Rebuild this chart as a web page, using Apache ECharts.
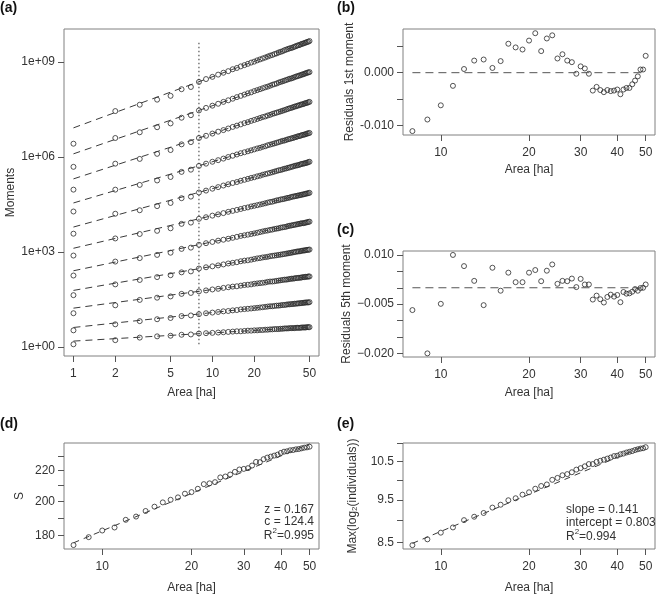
<!DOCTYPE html>
<html lang="en">
<head>
<meta charset="UTF-8">
<title>Moments and residuals vs area</title>
<script src="https://cdn.jsdelivr.net/npm/echarts@6/dist/echarts.min.js"></script>
</head>
<body style="margin:0;background:#fff">
<div id="main" style="width:666px;height:596px"></div>
<script type="text/javascript">
// sampling area (ha) for panel (a); panels (b)-(e) use areas 8..50
var areas = [1,2,3,4,5,6,7,8,9,10,11,12,13,14,15,16,17,18,19,20,21,22,23,24,25,26,27,28,29,30,
             31,32,33,34,35,36,37,38,39,40,41,42,43,44,45,46,47,48,49,50];
var cutoffArea = 8;
var cutoffSpanExp = [0.09, 9.62];

// log10 of moments, one row per moment order (bottom to top)
var m1  = [0.09,0.22,0.30,0.34,0.36,0.39,0.40,0.43,0.44,0.45,0.46,0.47,0.48,0.49,0.50,0.50,0.51,0.52,0.52,0.53,0.53,0.54,0.54,0.55,0.55,0.56,0.56,0.57,0.57,0.57,0.58,0.58,0.59,0.59,0.59,0.60,0.60,0.60,0.60,0.61,0.61,0.61,0.61,0.62,0.62,0.62,0.62,0.63,0.63,0.63];
var m2  = [0.53,0.72,0.82,0.88,0.92,0.98,1.00,1.04,1.07,1.09,1.11,1.13,1.14,1.16,1.17,1.19,1.20,1.21,1.22,1.23,1.24,1.25,1.26,1.27,1.28,1.29,1.29,1.30,1.31,1.31,1.32,1.33,1.33,1.34,1.35,1.35,1.36,1.36,1.37,1.37,1.38,1.38,1.39,1.39,1.40,1.40,1.41,1.41,1.41,1.42];
var m3  = [1.07,1.32,1.49,1.56,1.60,1.68,1.71,1.76,1.79,1.82,1.84,1.87,1.89,1.91,1.92,1.94,1.96,1.97,1.98,2.00,2.01,2.02,2.03,2.04,2.06,2.07,2.07,2.08,2.09,2.10,2.11,2.12,2.13,2.13,2.14,2.15,2.16,2.16,2.17,2.18,2.18,2.19,2.19,2.20,2.21,2.21,2.22,2.22,2.23,2.23];
var m4  = [1.64,1.98,2.12,2.21,2.27,2.36,2.39,2.48,2.52,2.55,2.58,2.61,2.64,2.66,2.68,2.71,2.73,2.74,2.76,2.78,2.80,2.81,2.83,2.84,2.85,2.87,2.88,2.89,2.90,2.91,2.92,2.93,2.94,2.95,2.96,2.97,2.98,2.99,3.00,3.01,3.02,3.02,3.03,3.04,3.05,3.05,3.06,3.07,3.07,3.08];
var m5  = [2.26,2.70,2.81,2.91,2.98,3.10,3.14,3.23,3.28,3.32,3.36,3.39,3.42,3.45,3.48,3.51,3.53,3.55,3.57,3.59,3.61,3.63,3.65,3.67,3.68,3.70,3.71,3.73,3.74,3.75,3.77,3.78,3.79,3.80,3.82,3.83,3.84,3.85,3.86,3.87,3.88,3.89,3.90,3.91,3.91,3.92,3.93,3.94,3.95,3.96];
var m6  = [2.89,3.43,3.57,3.67,3.75,3.89,3.93,4.05,4.10,4.15,4.19,4.23,4.27,4.30,4.33,4.36,4.39,4.41,4.44,4.46,4.48,4.50,4.52,4.54,4.56,4.58,4.59,4.61,4.63,4.64,4.66,4.67,4.68,4.70,4.71,4.72,4.74,4.75,4.76,4.77,4.78,4.79,4.80,4.81,4.82,4.83,4.84,4.85,4.86,4.87];
var m7  = [3.58,4.21,4.32,4.45,4.55,4.70,4.75,4.88,4.94,5.00,5.05,5.10,5.14,5.18,5.21,5.25,5.28,5.31,5.34,5.36,5.39,5.41,5.44,5.46,5.48,5.50,5.52,5.54,5.56,5.58,5.59,5.61,5.63,5.64,5.66,5.67,5.69,5.70,5.72,5.73,5.74,5.75,5.77,5.78,5.79,5.80,5.81,5.82,5.84,5.85];
var m8  = [4.28,4.97,5.12,5.26,5.37,5.53,5.60,5.72,5.79,5.85,5.90,5.95,6.00,6.04,6.08,6.12,6.15,6.18,6.21,6.24,6.27,6.29,6.32,6.34,6.37,6.39,6.41,6.43,6.45,6.47,6.49,6.51,6.52,6.54,6.56,6.57,6.59,6.60,6.62,6.63,6.65,6.66,6.67,6.69,6.70,6.71,6.72,6.74,6.75,6.76];
var m9  = [4.97,5.79,5.94,6.10,6.22,6.40,6.47,6.60,6.67,6.74,6.80,6.85,6.90,6.95,6.99,7.03,7.07,7.10,7.14,7.17,7.20,7.23,7.26,7.28,7.31,7.33,7.36,7.38,7.40,7.42,7.44,7.46,7.48,7.50,7.52,7.54,7.55,7.57,7.59,7.60,7.62,7.63,7.65,7.66,7.67,7.69,7.70,7.71,7.73,7.74];
var m10 = [5.69,6.60,6.78,6.94,7.06,7.24,7.32,7.47,7.55,7.62,7.68,7.74,7.79,7.84,7.89,7.93,7.97,8.01,8.04,8.08,8.11,8.14,8.17,8.20,8.22,8.25,8.28,8.30,8.32,8.35,8.37,8.39,8.41,8.43,8.45,8.47,8.48,8.50,8.52,8.54,8.55,8.57,8.58,8.60,8.61,8.63,8.64,8.66,8.67,8.68];
var m11 = [6.42,7.45,7.65,7.81,7.93,8.14,8.21,8.37,8.46,8.53,8.60,8.66,8.71,8.77,8.81,8.86,8.90,8.94,8.98,9.01,9.05,9.08,9.11,9.14,9.17,9.20,9.22,9.25,9.27,9.30,9.32,9.34,9.37,9.39,9.41,9.43,9.44,9.46,9.48,9.50,9.52,9.53,9.55,9.57,9.58,9.60,9.61,9.63,9.64,9.66];
var momentRows = [m1, m2, m3, m4, m5, m6, m7, m8, m9, m10, m11];
// fitted power laws, log10 value at 1 ha and at 50 ha
var fitExpAt1  = [0.19,0.62,1.23,1.79,2.41,3.12,3.79,4.55,5.31,6.10,6.92];
var fitExpAt50 = [0.63,1.42,2.23,3.08,3.96,4.87,5.85,6.76,7.74,8.68,9.66];

var resid1 = [-0.0111,-0.0089,-0.0062,-0.0025,0.0007,0.0023,0.0025,0.0009,0.0022,0.0055,0.0048,0.0044,0.0061,0.0075,0.0041,0.0065,0.0071,0.0027,0.0035,0.0023,0.0020,-0.0002,0.0012,0.0008,-0.0002,-0.0034,-0.0027,-0.0033,-0.0037,-0.0033,-0.0035,-0.0034,-0.0032,-0.0041,-0.0032,-0.0029,-0.0029,-0.0022,-0.0015,-0.0007,0.0006,0.0006,0.0032];
var resid5 = [-0.0068,-0.0200,-0.0049,0.0100,0.0066,0.0021,-0.0053,0.0061,-0.0009,0.0046,0.0017,0.0017,0.0046,0.0054,0.0020,0.0052,0.0071,0.0012,0.0021,0.0020,0.0028,0.0002,0.0027,0.0010,0.0010,-0.0036,-0.0024,-0.0035,-0.0045,-0.0028,-0.0021,-0.0027,-0.0022,-0.0044,-0.0013,-0.0018,-0.0017,-0.0012,-0.0004,-0.0009,-0.0001,0.0000,0.0010];
var richness = [174.8,179.1,182.8,184.5,188.9,190.8,194.1,196.7,199.3,200.9,202.4,204.7,205.7,207.8,210.8,211.3,212.1,215.2,215.8,217.1,218.9,220.5,220.9,221.4,223.2,225.7,225.5,227.6,228.7,229.4,230.1,230.8,232.0,232.9,233.2,233.9,234.1,234.6,234.8,235.3,235.8,236.0,236.5];
var maxLog2 = [8.44,8.57,8.72,8.84,9.01,9.09,9.18,9.31,9.38,9.49,9.54,9.63,9.69,9.78,9.85,9.89,10.01,10.06,10.13,10.16,10.21,10.28,10.32,10.37,10.43,10.43,10.49,10.52,10.55,10.58,10.61,10.65,10.66,10.70,10.72,10.75,10.77,10.79,10.82,10.84,10.86,10.87,10.90];
// fitted lines at 8 ha and 50 ha
var fitRichness = [176.0, 238.5];
var fitMaxLog2 = [8.48, 10.95];

var xTicksA = [1, 2, 5, 10, 20, 50];
var xTicksB = [10, 20, 30, 40, 50];
var yTicksA = [1, 1e3, 1e6, 1e9];
var yTicksB = [-0.01, -0.005, 0, 0.005];
var yLabelsB = [-0.01, 0];
var yTicksC = [0.01, 0.005, 0, -0.005, -0.01, -0.015, -0.02];
var yLabelsC = [0.01, -0.005, -0.02];
var yTicksD = [180, 190, 200, 210, 220, 230];
var yLabelsD = [180, 200, 220];
var yTicksE = [8.5, 9, 9.5, 10, 10.5, 11];
var yLabelsE = [8.5, 9.5, 10.5];

var FONT = 'Liberation Sans, Arial, sans-serif';
var ink = '#333';
var areasSub = areas.slice(7);

var chart = echarts.init(document.getElementById('main'));

function pair(xs, ys) {
    return xs.map(function (x, i) { return [x, ys[i]]; });
}
function p10(v) { return Math.pow(10, v); }

function xAxisFor(grid, min, max, ticks, gap) {
    return {
        type: 'log', gridIndex: grid, min: min, max: max,
        axisLine: {show: false, onZero: false}, splitLine: {show: false},
        axisTick: {show: true, length: 6, customValues: ticks, lineStyle: {color: '#555'}},
        axisLabel: {customValues: ticks, margin: 12, fontFamily: FONT, fontSize: 12, color: ink,
            formatter: function (v) { return String(Math.round(v)); }},
        name: 'Area [ha]', nameLocation: 'middle', nameGap: gap,
        nameTextStyle: {fontFamily: FONT, fontSize: 12, color: ink}
    };
}
function yAxisFor(grid, type, min, max, ticks, labels, fmt, name, gap, rich) {
    return {
        type: type, gridIndex: grid, min: min, max: max,
        axisLine: {show: false, onZero: false}, splitLine: {show: false},
        axisTick: {show: true, length: 6, customValues: ticks, lineStyle: {color: '#555'}},
        axisLabel: {customValues: labels, margin: 9, fontFamily: FONT, fontSize: 12, color: ink, formatter: fmt},
        name: name, nameLocation: 'middle', nameGap: gap, nameRotate: 90,
        nameTextStyle: {fontFamily: FONT, fontSize: 12, color: ink, rich: rich}
    };
}

var gridStyle = {show: true, borderColor: '#808080', borderWidth: 1, containLabel: false};
var grids = [
    Object.assign({left: 64, top: 29, width: 255, height: 327}, gridStyle),
    Object.assign({left: 403, top: 29, width: 252, height: 106}, gridStyle),
    Object.assign({left: 403, top: 251, width: 252, height: 106}, gridStyle),
    Object.assign({left: 64, top: 443, width: 255, height: 106}, gridStyle),
    Object.assign({left: 403, top: 443, width: 252, height: 106}, gridStyle)
];

// hollow circles, as R's pch = 1
var dot = {symbol: 'circle', symbolSize: 5,
    itemStyle: {color: 'rgba(255,255,255,0)', borderColor: '#2a2a2a', borderWidth: 1}};

var series = [];
momentRows.forEach(function (row, k) {
    series.push({
        type: 'line', xAxisIndex: 0, yAxisIndex: 0, symbol: 'none', silent: true,
        lineStyle: {color: '#3a3a3a', width: 1, type: [7, 5]},
        data: [[1, p10(fitExpAt1[k])], [50, p10(fitExpAt50[k])]]
    });
    series.push(Object.assign({
        type: 'scatter', xAxisIndex: 0, yAxisIndex: 0,
        data: pair(areas, row.map(p10))
    }, dot));
});
series.push({
    type: 'line', xAxisIndex: 0, yAxisIndex: 0, symbol: 'none', silent: true,
    lineStyle: {color: '#333', width: 1, type: [1.5, 2.5]},
    data: [[cutoffArea, p10(cutoffSpanExp[0])], [cutoffArea, p10(cutoffSpanExp[1])]]
});
series.push({
    type: 'line', xAxisIndex: 1, yAxisIndex: 1, symbol: 'none', silent: true,
    lineStyle: {color: '#555', width: 1, type: [8, 5]},
    data: [[8, 0], [50, 0]]
});
series.push(Object.assign({type: 'scatter', xAxisIndex: 1, yAxisIndex: 1, data: pair(areasSub, resid1)}, dot));
series.push({
    type: 'line', xAxisIndex: 2, yAxisIndex: 2, symbol: 'none', silent: true,
    lineStyle: {color: '#555', width: 1, type: [8, 5]},
    data: [[8, 0], [50, 0]]
});
series.push(Object.assign({type: 'scatter', xAxisIndex: 2, yAxisIndex: 2, data: pair(areasSub, resid5)}, dot));
series.push({
    type: 'line', xAxisIndex: 3, yAxisIndex: 3, symbol: 'none', silent: true,
    lineStyle: {color: '#3a3a3a', width: 1, type: [6, 5]},
    data: [[8, fitRichness[0]], [50, fitRichness[1]]]
});
series.push(Object.assign({type: 'scatter', xAxisIndex: 3, yAxisIndex: 3, data: pair(areasSub, richness)}, dot));
series.push({
    type: 'line', xAxisIndex: 4, yAxisIndex: 4, symbol: 'none', silent: true,
    lineStyle: {color: '#3a3a3a', width: 1, type: [6, 5]},
    data: [[8, fitMaxLog2[0]], [50, fitMaxLog2[1]]]
});
series.push(Object.assign({type: 'scatter', xAxisIndex: 4, yAxisIndex: 4, data: pair(areasSub, maxLog2)}, dot));

function panelLabel(txt, x, y) {
    return {type: 'text', x: x, y: y, style: {text: txt, font: 'bold 14px ' + FONT, fill: '#111'}};
}
function note(txt, x, y, align) {
    return {type: 'text', x: x, y: y, style: {
        text: txt, fill: ink, font: '12px ' + FONT, textAlign: align, textVerticalAlign: 'middle',
        rich: {
            n: {fontFamily: FONT, fontSize: 12, color: ink},
            s: {fontFamily: FONT, fontSize: 8, color: ink, verticalAlign: 'top', lineHeight: 18}
        }
    }};
}

var option = {
    backgroundColor: '#fff',
    animation: false,
    grid: grids,
    xAxis: [
        xAxisFor(0, 0.855, 58.5, xTicksA, 31),
        xAxisFor(1, 7.43, 53.8, xTicksB, 29),
        xAxisFor(2, 7.43, 53.8, xTicksB, 30),
        xAxisFor(3, 7.43, 53.8, xTicksB, 33),
        xAxisFor(4, 7.43, 53.8, xTicksB, 33)
    ],
    yAxis: [
        yAxisFor(0, 'log', p10(-0.28), p10(10.04), yTicksA, yTicksA, function (v) {
            var e = Math.round(Math.log10(v));
            return '1e+' + (e < 10 ? '0' : '') + e;
        }, 'Moments', 47),
        yAxisFor(1, 'value', -0.01184, 0.0083, yTicksB, yLabelsB, function (v) {
            return (v < 0 ? '-' : '') + Math.abs(v).toFixed(3);
        }, 'Residuals 1st moment', 45),
        yAxisFor(2, 'value', -0.0211, 0.0112, yTicksC, yLabelsC, function (v) {
            return (v < 0 ? '\u2212' : '') + Math.abs(v).toFixed(3);
        }, 'Residuals 5th moment', 45),
        yAxisFor(3, 'log', 172.7, 239.2, yTicksD, yLabelsD, function (v) {
            return String(Math.round(v));
        }, 'S', 38),
        yAxisFor(4, 'log', 8.356, 11.02, yTicksE, yLabelsE, function (v) {
            return v.toFixed(1);
        }, '{n|Max(log}{s|2}{n|(individuals))}', 44, {
            n: {fontFamily: FONT, fontSize: 12, color: ink},
            s: {fontFamily: FONT, fontSize: 8, color: ink, verticalAlign: 'bottom', lineHeight: 8}
        })
    ],
    series: series,
    graphic: [
        panelLabel('(a)', 0, 1),
        panelLabel('(b)', 337, 1),
        panelLabel('(c)', 337, 223),
        panelLabel('(d)', 0, 417),
        panelLabel('(e)', 337, 417),
        note('z = 0.167', 314, 510, 'right'),
        note('c = 124.4', 314, 522, 'right'),
        note('{n|R}{s|2}{n|=0.995}', 314, 536, 'right'),
        note('slope = 0.141', 566, 510, 'left'),
        note('intercept = 0.803', 566, 523, 'left'),
        note('{n|R}{s|2}{n|=0.994}', 566, 537, 'left')
    ]
};

chart.setOption(option);
</script>
</body>
</html>
